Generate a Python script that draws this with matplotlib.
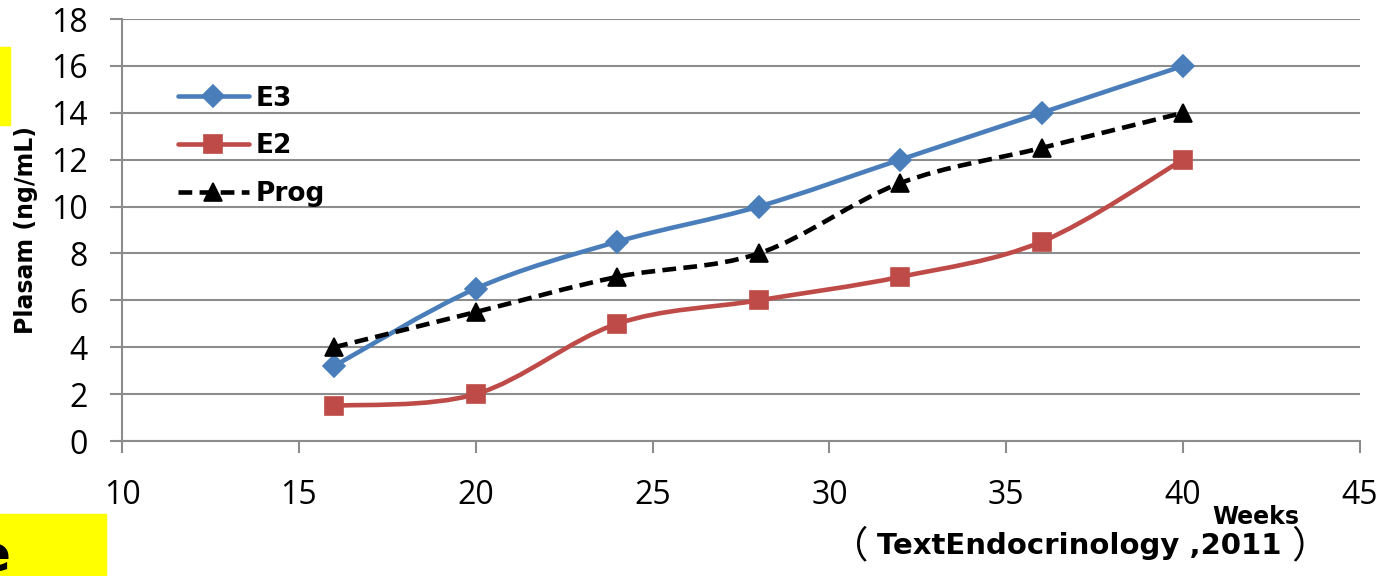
import matplotlib
matplotlib.use("Agg")
import matplotlib.pyplot as plt
from matplotlib.path import Path
from matplotlib.patches import PathPatch, Rectangle
from matplotlib.lines import Line2D

weeks = [16, 20, 24, 28, 32, 36, 40]
e3 = [3.2, 6.5, 8.5, 10, 12, 14, 16]
e2 = [1.5, 2, 5, 6, 7, 8.5, 12]
prog = [4, 5.5, 7, 8, 11, 12.5, 14]
x_ticks = [10, 15, 20, 25, 30, 35, 40, 45]
y_ticks = [0, 2, 4, 6, 8, 10, 12, 14, 16, 18]

BLUE = "#4A7EBB"
RED = "#BE4B48"
GRID = "#8C8C8C"
BOLD_FONT = ["DejaVu Sans", "Noto Sans CJK SC"]
CJK_FONT = ["Noto Sans CJK SC", "DejaVu Sans"]

plt.rcParams["font.family"] = ["Open Sans", "DejaVu Sans"]

W, H = 1396, 576
fig = plt.figure(figsize=(W / 100, H / 100), dpi=100)
ax = fig.add_axes([122 / W, 1 - 441 / H, (1360 - 122) / W, (441 - 19) / H])


def smooth_path(xs, ys):
    """Bezier path through the points (Catmull-Rom style tangents)."""
    pts = list(zip(xs, ys))
    n = len(pts)
    verts = [pts[0]]
    codes = [Path.MOVETO]
    for i in range(n - 1):
        p0 = pts[i - 1] if i > 0 else pts[i]
        p1 = pts[i]
        p2 = pts[i + 1]
        p3 = pts[i + 2] if i + 2 < n else pts[i + 1]
        c1 = (p1[0] + (p2[0] - p0[0]) / 6, p1[1] + (p2[1] - p0[1]) / 6)
        c2 = (p2[0] - (p3[0] - p1[0]) / 6, p2[1] - (p3[1] - p1[1]) / 6)
        verts += [c1, c2, p2]
        codes += [Path.CURVE4] * 3
    return Path(verts, codes)


dash = (3.0, 1.6)
series = [
    (e3, BLUE, "D", 11, "-", "E3"),
    (e2, RED, "s", 12.5, "-", "E2"),
    (prog, "black", "^", 12.5, "--", "Prog"),
]
handles = []
for ys, color, marker, ms, ls, label in series:
    patch = PathPatch(smooth_path(weeks, ys), facecolor="none", edgecolor=color,
                      lw=3.3, capstyle="round", joinstyle="round", zorder=3)
    if ls == "--":
        patch.set_linestyle((0, dash))
        patch.set_capstyle("butt")
    ax.add_patch(patch)
    ax.plot(weeks, ys, linestyle="none", marker=marker, markersize=ms,
            color=color, markeredgecolor=color, markeredgewidth=1.2, zorder=4)
    h = Line2D([], [], color=color, lw=3.3, marker=marker, markersize=ms,
               solid_capstyle="round", markeredgecolor=color, markeredgewidth=1.2)
    if ls == "--":
        h.set_linestyle((0, dash))
    handles.append(h)

ax.set_xlim(10, 45)
ax.set_ylim(0, 18)
ax.set_xticks(x_ticks)
ax.set_yticks(y_ticks)
ax.yaxis.grid(True, color=GRID, lw=1.5)
ax.set_axisbelow(True)
for s in ("top", "right"):
    ax.spines[s].set_visible(False)
for s in ("left", "bottom"):
    ax.spines[s].set_color(GRID)
    ax.spines[s].set_linewidth(1.5)
ax.tick_params(axis="both", colors=GRID, width=1.5, length=8.5,
               labelcolor="black", labelsize=23)
ax.tick_params(axis="x", pad=19)
ax.tick_params(axis="y", pad=16)

fig.text(26 / W, 1 - 230 / H, "Plasam (ng/mL)", rotation=90, ha="center",
         va="center", fontsize=17, fontweight="bold", family=BOLD_FONT)

leg = ax.legend(handles, ["E3", "E2", "Prog"], loc="upper left",
                bbox_to_anchor=(45 / (1360 - 122), 1 - 56 / 422),
                frameon=False, handlelength=2.7, handletextpad=0.25,
                labelspacing=0.82, borderaxespad=0,
                prop={"family": BOLD_FONT, "weight": "bold", "size": 19})

fig.text(1256 / W, 1 - 524 / H, "Weeks", ha="center", va="baseline",
         fontsize=17, fontweight="bold", family=BOLD_FONT)

# source note: Latin text flanked by full-width brackets
fig.text(1079 / W, 1 - 554 / H, "TextEndocrinology ,2011", ha="center",
         va="baseline", fontsize=21, fontweight="bold", family=BOLD_FONT)
fig.text(868 / W, 1 - 547 / H, "（", ha="right", va="center",
         fontsize=27, family=CJK_FONT)
fig.text(1291 / W, 1 - 547 / H, "）", ha="left", va="center",
         fontsize=27, family=CJK_FONT)

# yellow callout boxes along the left edge
fig.patches.append(Rectangle((0, 1 - 125 / H), 10 / W, 78 / H,
                             transform=fig.transFigure, color="#FFFF00", zorder=0))
fig.patches.append(Rectangle((0, 0), 106 / W, 62 / H,
                             transform=fig.transFigure, color="#FFFF00", zorder=0))
fig.text(-6 / W, 1 - 571 / H, "e", ha="center", va="baseline", fontsize=36,
         fontweight="bold", family=BOLD_FONT)

fig.savefig("out.png", dpi=100)
